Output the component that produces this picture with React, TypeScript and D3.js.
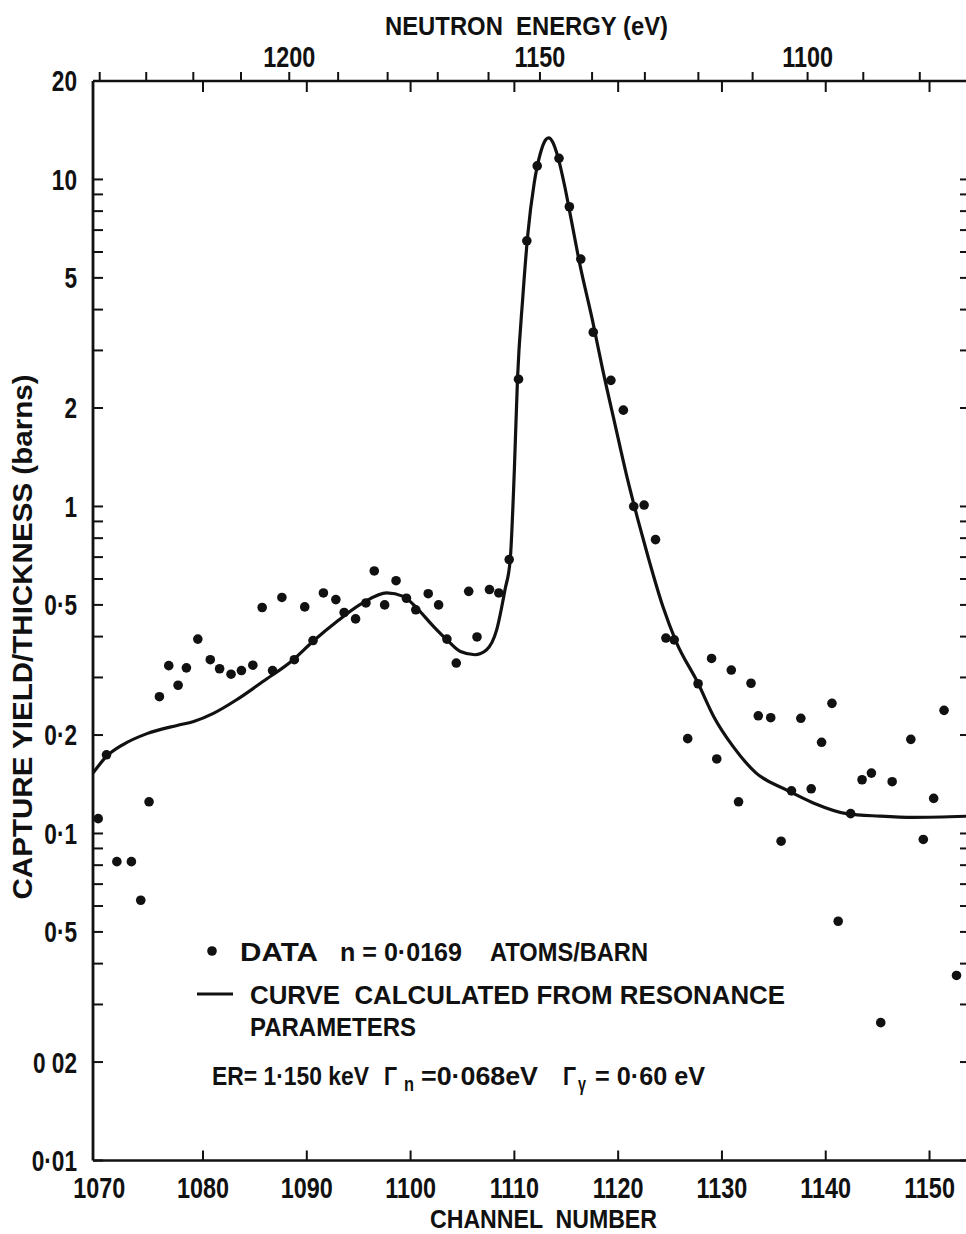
import React from 'react';
import * as d3 from 'd3';

// Measured capture yield per unit thickness, one point per time-of-flight channel
const dataChannel = [
  1069.9, 1070.7, 1071.7, 1073.1, 1074.0, 1074.8, 1075.8, 1076.7, 1077.6, 1078.4,
  1079.5, 1080.7, 1081.6, 1082.7, 1083.7, 1084.8, 1085.7, 1086.7, 1087.6, 1088.8,
  1089.8, 1090.6, 1091.6, 1092.8, 1093.6, 1094.7, 1095.7, 1096.5, 1097.5, 1098.6,
  1099.6, 1100.5, 1101.7, 1102.7, 1103.5, 1104.4, 1105.6, 1106.4, 1107.6, 1108.5,
  1109.5, 1110.4, 1111.2, 1112.2, 1114.3, 1115.3, 1116.4, 1117.6, 1119.3, 1120.5,
  1121.5, 1122.5, 1123.6, 1124.6, 1125.4, 1126.7, 1127.7, 1129.0, 1129.5, 1130.9,
  1131.6, 1132.8, 1133.5, 1134.7, 1135.7, 1136.7, 1137.6, 1138.6, 1139.6, 1140.6,
  1141.2, 1142.4, 1143.5, 1144.4, 1145.3, 1146.4, 1148.2, 1149.4, 1150.4, 1151.4,
  1152.6,
];
const dataYield = [
  0.111, 0.174, 0.082, 0.082, 0.0625, 0.125, 0.262, 0.326, 0.284, 0.321,
  0.393, 0.34, 0.319, 0.307, 0.315, 0.327, 0.491, 0.315, 0.527, 0.34,
  0.493, 0.389, 0.544, 0.519, 0.474, 0.453, 0.507, 0.635, 0.5, 0.593,
  0.524, 0.483, 0.541, 0.5, 0.393, 0.332, 0.55, 0.399, 0.557, 0.544,
  0.688, 2.45, 6.49, 11.0, 11.6, 8.25, 5.71, 3.41, 2.43, 1.97,
  1.0, 1.01, 0.792, 0.396, 0.391, 0.195, 0.287, 0.343, 0.169, 0.316,
  0.125, 0.288, 0.229, 0.226, 0.0947, 0.135, 0.225, 0.137, 0.19, 0.25,
  0.0539, 0.115, 0.146, 0.153, 0.0264, 0.144, 0.194, 0.0959, 0.128, 0.238,
  0.0368,
];

// Yield calculated from the resonance parameters
const curveChannel = [
  1069.4, 1070.7, 1072.3, 1074.6, 1077.5, 1079.1, 1081.0, 1083.2, 1085.8, 1088.7,
  1090.6, 1092.9, 1095.4, 1097.7, 1099.3, 1100.6, 1102.2, 1103.5, 1104.8, 1106.2,
  1107.3, 1108.3, 1109.1, 1109.6, 1110.0, 1110.3, 1110.8, 1111.3, 1111.9, 1112.5,
  1113.0, 1113.3, 1113.7, 1114.2, 1114.8, 1115.5, 1116.3, 1117.5, 1118.5, 1119.7,
  1120.8, 1121.9, 1122.9, 1124.3, 1125.6, 1127.7, 1129.2, 1131.1, 1133.3, 1136.2,
  1138.8, 1142.0, 1145.2, 1148.4, 1153.9,
];
const curveYield = [
  0.153, 0.172, 0.187, 0.202, 0.214, 0.22, 0.233, 0.256, 0.292, 0.34,
  0.387, 0.445, 0.507, 0.544, 0.531, 0.489, 0.43, 0.391, 0.36, 0.352,
  0.364, 0.42, 0.557, 0.688, 1.3, 2.45, 4.31, 6.82, 9.7, 12.0,
  13.2, 13.4, 13.0, 11.7, 9.7, 7.47, 5.52, 3.74, 2.63, 1.78,
  1.25, 0.912, 0.698, 0.495, 0.385, 0.288, 0.228, 0.184, 0.153, 0.136,
  0.124, 0.115, 0.113, 0.112, 0.113,
];

const channelTicks = [1070, 1080, 1090, 1100, 1110, 1120, 1130, 1140, 1150];
const energyTicks = [1080, 1090, 1100, 1110, 1120, 1130, 1140, 1150, 1160, 1170, 1180, 1190, 1200, 1210, 1220, 1230, 1240];
const energyLabels = [1100, 1150, 1200];
const yLabelValues = [20, 10, 5, 2, 1, 0.5, 0.2, 0.1, 0.05, 0.02, 0.01];
const yLabelTexts = ['20', '10', '5', '2', '1', '0·5', '0·2', '0·1', '0·5', '0 02', '0·01'];

// Time-of-flight calibration: channel = T0 + K / sqrt(E)
const TOF_T0 = -34.81;
const TOF_K = 38906;
const channelOfEnergy = (e: number) => TOF_T0 + TOF_K / Math.sqrt(e);

const W = 966;
const H = 1234;
const LEFT = 93;
const RIGHT = 970;
const TOP = 81;
const BOTTOM = 1160.5;
const FONT = "'Liberation Sans', Arial, sans-serif";
const INK = '#111';
const NARROW = 0.78;

// Condensed lettering: the glyphs are squeezed horizontally around the anchor
function NText(props: {
  x: number;
  y: number;
  size: number;
  anchor?: 'start' | 'middle' | 'end';
  sx?: number;
  dy?: string;
  children: React.ReactNode;
}) {
  const { x, y, size, anchor = 'start', sx = NARROW, dy, children } = props;
  return (
    <text
      transform={`translate(${x},${y}) scale(${sx},1)`}
      textAnchor={anchor}
      fontSize={size}
      dy={dy}
      fontWeight={700}
      fill={INK}
      style={{ whiteSpace: 'pre' }}
    >
      {children}
    </text>
  );
}

export default function App() {
  const x = d3.scaleLinear().domain([1069.4, 1153.9]).range([LEFT, RIGHT]);
  const y = d3.scaleLog().domain([0.01, 20]).range([BOTTOM, TOP]);
  const logTicks = y.ticks();

  const line = d3
    .line<number>()
    .x((_, i) => x(curveChannel[i]))
    .y((_, i) => y(curveYield[i]))
    .curve(d3.curveMonotoneX);
  const curvePath = line(curveYield) || '';

  const fit = { fontWeight: 700, fill: INK, lengthAdjust: 'spacingAndGlyphs', style: { whiteSpace: 'pre' as const } };

  return (
    <svg
      width={W}
      height={H}
      viewBox={`0 0 ${W} ${H}`}
      style={{ position: 'absolute', left: 0, top: 0, background: '#fff' }}
      fontFamily={FONT}
    >
      <defs>
        <clipPath id="plotArea">
          <rect x={LEFT} y={TOP} width={RIGHT - LEFT} height={BOTTOM - TOP} />
        </clipPath>
      </defs>
      <rect x={0} y={0} width={W} height={H} fill="#fff" />

      {/* frame */}
      <line x1={LEFT} x2={RIGHT} y1={TOP} y2={TOP} stroke={INK} strokeWidth={2.6} />
      <line x1={LEFT} x2={RIGHT} y1={BOTTOM} y2={BOTTOM} stroke={INK} strokeWidth={2.6} />
      <line x1={LEFT} x2={LEFT} y1={TOP} y2={BOTTOM} stroke={INK} strokeWidth={2.8} />
      <line x1={RIGHT} x2={RIGHT} y1={TOP} y2={BOTTOM} stroke={INK} strokeWidth={2.6} />

      {/* channel ticks, bottom (inward) and top (mirrored) */}
      {channelTicks
        .filter((c) => x(c) - LEFT > 8)
        .map((c) => (
          <g key={`ct${c}`}>
            <line x1={x(c)} x2={x(c)} y1={BOTTOM} y2={BOTTOM - 10} stroke={INK} strokeWidth={2} />
            <line x1={x(c)} x2={x(c)} y1={TOP} y2={TOP + 11} stroke={INK} strokeWidth={2} />
          </g>
        ))}
      {channelTicks.map((c) => (
        <NText key={`cl${c}`} x={x(c)} y={1198} size={30} anchor="middle">
          {c}
        </NText>
      ))}

      {/* neutron energy ticks on the top edge */}
      {energyTicks
        .filter((e) => x(channelOfEnergy(e)) > LEFT + 4 && x(channelOfEnergy(e)) < W)
        .map((e) => (
          <line
            key={`et${e}`}
            x1={x(channelOfEnergy(e))}
            x2={x(channelOfEnergy(e))}
            y1={TOP}
            y2={TOP - 9}
            stroke={INK}
            strokeWidth={2}
          />
        ))}
      {energyLabels.map((e) => (
        <NText key={`el${e}`} x={x(channelOfEnergy(e))} y={66.5} size={30} anchor="middle">
          {e}
        </NText>
      ))}

      {/* logarithmic ticks on both vertical edges */}
      {logTicks.map((v, i) => (
        <g key={`yt${i}`}>
          <line x1={LEFT} x2={LEFT + 10} y1={y(v)} y2={y(v)} stroke={INK} strokeWidth={2} />
          <line x1={RIGHT - 10} x2={RIGHT} y1={y(v)} y2={y(v)} stroke={INK} strokeWidth={2} />
        </g>
      ))}
      {yLabelValues.map((v, i) => (
        <NText key={`yl${i}`} x={77} y={y(v)} dy="0.36em" size={29} anchor="end">
          {yLabelTexts[i]}
        </NText>
      ))}

      {/* axis titles */}
      <text x={385} y={35} fontSize={25} textLength={283} {...fit}>
        NEUTRON  ENERGY (eV)
      </text>
      <text x={430} y={1228} fontSize={26} textLength={227} {...fit}>
        CHANNEL  NUMBER
      </text>
      <text transform="translate(32,637) rotate(-90)" textAnchor="middle" fontSize={27} textLength={525} {...fit}>
        CAPTURE YIELD/THICKNESS (barns)
      </text>

      {/* calculated curve and data */}
      <g clipPath="url(#plotArea)">
        <path d={curvePath} fill="none" stroke={INK} strokeWidth={3.2} strokeLinejoin="round" />
        {dataChannel.map((c, i) => (
          <circle key={`d${i}`} cx={x(c)} cy={y(dataYield[i])} r={4.8} fill={INK} />
        ))}
      </g>

      {/* legend */}
      <g>
        <circle cx={212} cy={951} r={4.8} fill={INK} />
        <text x={240} y={961} fontSize={26} textLength={78} {...fit}>DATA</text>
        <text x={340} y={961} fontSize={26} textLength={122} {...fit}>n = 0·0169</text>
        <text x={490} y={961} fontSize={26} textLength={158} {...fit}>ATOMS/BARN</text>
        <line x1={197} x2={233} y1={994} y2={994} stroke={INK} strokeWidth={3.2} />
        <text x={250} y={1004} fontSize={26} textLength={535} {...fit}>CURVE  CALCULATED FROM RESONANCE</text>
        <text x={250} y={1036} fontSize={26} textLength={166} {...fit}>PARAMETERS</text>
        <text x={212} y={1085} fontSize={25} textLength={157} {...fit}>ER= 1·150 keV</text>
        <text x={384} y={1085} fontSize={25} textLength={13} {...fit}>Γ</text>
        <text x={404} y={1091} fontSize={21} textLength={10} {...fit}>n</text>
        <text x={421} y={1085} fontSize={25} textLength={117} {...fit}>=0·068eV</text>
        <text x={563} y={1085} fontSize={25} textLength={13} {...fit}>Γ</text>
        <text x={578} y={1091} fontSize={21} textLength={8} {...fit}>γ</text>
        <text x={595} y={1085} fontSize={25} textLength={110} {...fit}>= 0·60 eV</text>
      </g>
    </svg>
  );
}
